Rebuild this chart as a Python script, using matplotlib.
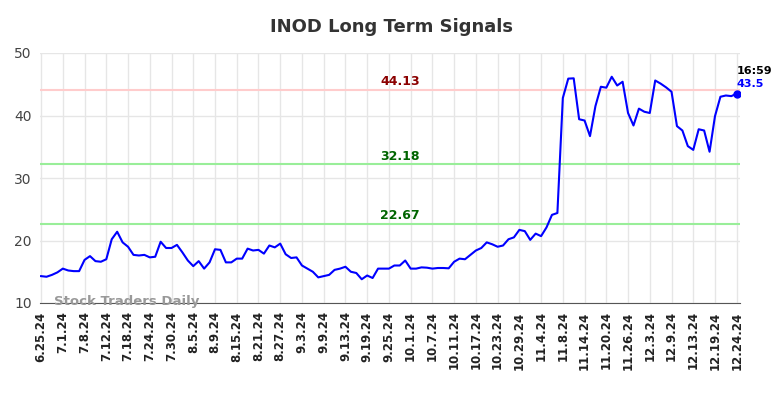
import numpy as np
import matplotlib
matplotlib.use('Agg')
import matplotlib.pyplot as plt

# closing prices, one per trading day (6.25.24 .. 12.24.24)
prices = [
    14.3, 14.2, 14.5, 14.9, 15.5, 15.2, 15.1, 15.1, 16.9, 17.5,
    16.7, 16.6, 17.0, 20.2, 21.4, 19.7, 19.0, 17.7, 17.6, 17.7,
    17.3, 17.4, 19.8, 18.8, 18.8, 19.3, 18.1, 16.8, 15.9, 16.7,
    15.5, 16.5, 18.6, 18.5, 16.5, 16.5, 17.1, 17.1, 18.7, 18.4,
    18.5, 17.9, 19.2, 18.9, 19.5, 17.8, 17.2, 17.3, 16.0, 15.5,
    15.0, 14.1, 14.3, 14.5, 15.3, 15.5, 15.8, 15.0, 14.8, 13.8,
    14.4, 14.0, 15.5, 15.5, 15.5, 16.0, 16.0, 16.8, 15.5, 15.5,
    15.7, 15.65, 15.5, 15.6, 15.6, 15.55, 16.6, 17.1, 17.0, 17.7,
    18.4, 18.8, 19.7, 19.4, 19.0, 19.2, 20.2, 20.5, 21.7, 21.5,
    20.1, 21.1, 20.7, 22.1, 24.1, 24.4, 42.8, 45.9, 45.95, 39.4,
    39.2, 36.7, 41.5, 44.6, 44.45, 46.2, 44.8, 45.4, 40.4, 38.4,
    41.1, 40.6, 40.4, 45.6, 45.1, 44.5, 43.8, 38.3, 37.6, 35.1,
    34.5, 37.8, 37.6, 34.2, 39.9, 43.0, 43.2, 43.1, 43.5,
]

tick_labels = [
    '6.25.24', '7.1.24', '7.8.24', '7.12.24', '7.18.24', '7.24.24', '7.30.24',
    '8.5.24', '8.9.24', '8.15.24', '8.21.24', '8.27.24', '9.3.24', '9.9.24',
    '9.13.24', '9.19.24', '9.25.24', '10.1.24', '10.7.24', '10.11.24',
    '10.17.24', '10.23.24', '10.29.24', '11.4.24', '11.8.24', '11.14.24',
    '11.20.24', '11.26.24', '12.3.24', '12.9.24', '12.13.24', '12.19.24',
    '12.24.24',
]

resistance = 44.13
supports = [32.18, 22.67]
last_time = '16:59'

x = np.arange(len(prices))
tick_pos = np.arange(0, len(prices), 4)

fig = plt.figure(figsize=(7.84, 3.98), dpi=100)
ax = fig.add_axes([40 / 784, 1 - 303 / 398, 700 / 784, 250 / 398])

ax.axhline(resistance, color='#ffcccc', lw=1.5, zorder=1)
for s in supports:
    ax.axhline(s, color='#99ee99', lw=1.5, zorder=1)

ax.plot(x, prices, color='#0000ff', lw=1.5, zorder=3)
ax.plot(x[-1], prices[-1], 'o', color='#0000ff', ms=5, zorder=4)

mid = 66
ax.text(mid, resistance + 0.3, f'{resistance:.2f}', color='#8b0000',
        fontsize=9, fontweight='bold', ha='center', va='bottom')
for s in supports:
    ax.text(mid, s + 0.3, f'{s:.2f}', color='#006400',
            fontsize=9, fontweight='bold', ha='center', va='bottom')

ax.text(x[-1], 46.3, last_time, color='black', fontsize=8,
        fontweight='bold', ha='left', va='bottom')
ax.text(x[-1], 44.2, f'{prices[-1]}', color='#0000ff', fontsize=8,
        fontweight='bold', ha='left', va='bottom')

ax.text(2.3, 10.2, 'Stock Traders Daily', color='#999999', fontsize=9.5,
        fontweight='bold', ha='left', va='center', zorder=5)

ax.set_xlim(-0.2, 128.6)
ax.set_ylim(10, 50)
ax.set_yticks([10, 20, 30, 40, 50])
ax.set_xticks(tick_pos)
ax.set_xticklabels(tick_labels, rotation=90, fontsize=8.5, fontweight='bold',
                   color='#222222')
ax.tick_params(axis='y', labelsize=10, colors='#444444', length=0, pad=6)
ax.tick_params(axis='x', length=0, pad=6)

ax.grid(True, color='#e6e6e6', lw=1)
ax.set_axisbelow(True)
for side in ['top', 'right', 'left']:
    ax.spines[side].set_visible(False)
ax.spines['bottom'].set_color('#555555')

fig.suptitle('INOD Long Term Signals', fontsize=13, fontweight='bold',
             color='#333333', y=0.955)

fig.savefig('out.png', dpi=100)
